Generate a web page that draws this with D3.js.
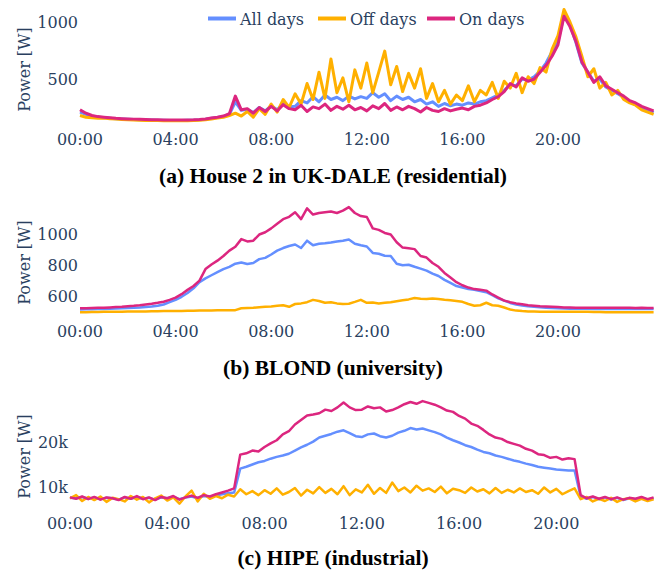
<!DOCTYPE html>
<html>
<head>
<meta charset="utf-8">
<script src="https://cdn.jsdelivr.net/npm/d3@7"></script>
<style>
  body { margin: 0; background: #fff; }
  svg text { font-family: "DejaVu Serif", serif; }
  svg text.title { font-family: "Liberation Serif", serif; font-weight: bold; }
</style>
</head>
<body>
<svg id="chart" width="670" height="575"></svg>
<script>
// legend / series
const seriesNames = ["All days", "Off days", "On days"];
const seriesColors = ["#648FFF", "#FFB000", "#DC267F"];

// time axis: samples every 15 min, 00:00 .. 24:00
const hours = d3.range(97).map(i => i / 4);
const hourTicks = [0, 4, 8, 12, 16, 20];
const hourLabels = ["00:00", "04:00", "08:00", "12:00", "16:00", "20:00"];

// (a) UK-DALE house 2 [W]
const ukdaleAll = [
  210, 190, 172, 165, 160, 156, 152, 149, 147, 145, 143, 141, 140, 139, 138, 137,
  137, 137, 138, 139, 142, 147, 155, 162, 172, 190, 300, 225, 235, 205, 250, 220,
  265, 230, 285, 255, 260, 310, 290, 345, 300, 360, 320, 340, 310, 350, 325, 345,
  330, 380, 340, 370, 310, 350, 320, 340, 300, 320, 280, 300, 260, 285, 265, 280,
  270, 290, 280, 300, 310, 335, 360, 400, 450, 440, 500, 490, 520, 570, 640, 740,
  830, 1060, 980, 820, 640, 560, 480, 500, 430, 400, 370, 340, 300, 275, 250, 230,
  205
];
const ukdaleOff = [
  180, 165, 160, 155, 158, 152, 148, 145, 142, 140, 139, 137, 136, 135, 134, 133,
  133, 133, 134, 135, 138, 143, 150, 158, 165, 180, 200, 175, 215, 165, 240, 190,
  280, 210, 320, 250, 370, 280, 460, 320, 560, 330, 675, 380, 510, 300, 580, 420,
  640, 380, 560, 745, 450, 610, 390, 550, 420, 590, 330, 460, 300, 400, 280, 360,
  310, 440, 300, 400, 360, 470, 330, 480, 420, 550, 380, 520, 460, 600, 560, 760,
  880, 1110, 1000, 870, 700, 520, 590, 420, 470, 360, 400, 320, 290, 270, 230, 210,
  190
];
const ukdaleOn = [
  230, 200, 180, 170, 165, 160, 155, 152, 150, 148, 146, 144, 143, 142, 141, 140,
  140, 140, 141, 142, 145, 150, 158, 165, 175, 195, 350, 230, 240, 200, 250, 215,
  260, 220, 275, 240, 230, 270, 215, 255, 240, 280, 225, 260, 235, 270, 230, 250,
  220, 265, 240, 285, 225, 255, 230, 260, 240, 210, 250, 225, 215, 240, 220, 235,
  245, 230, 260, 270, 290, 320, 345, 390, 460, 430, 510, 480, 500, 560, 620, 700,
  800, 1050, 960, 830, 650, 560, 470, 520, 440, 410, 380, 350, 310, 290, 260, 240,
  220
];

// (b) BLOND [W]
const blondAll = [
  513, 514, 514, 515, 516, 517, 518, 520, 522, 524, 526, 529, 532, 537, 545, 560,
  575, 595, 620, 650, 690, 715, 735, 755, 775, 790, 810, 818, 808, 815, 840, 848,
  870, 895, 912, 925, 935, 912, 960, 930, 940, 943, 948, 955, 960, 968, 940, 930,
  922, 880, 875, 862, 860, 810, 800, 803, 790, 778, 765, 746, 730, 705, 685, 665,
  655, 645, 640, 632, 625, 605, 585, 570, 555, 545, 538, 533, 530, 527, 524, 522,
  520, 518, 517, 517, 517, 517, 516, 516, 516, 516, 516, 516, 516, 516, 516, 516,
  516
];
const blondOff = [
  495, 495, 496, 496, 497, 497, 498, 498, 499, 499, 500, 500, 501, 501, 502, 502,
  503, 503, 504, 504, 505, 506, 506, 507, 507, 508, 508, 520, 522, 524, 527, 530,
  532, 536, 540, 530, 548, 552, 560, 575, 568, 556, 560, 552, 548, 550, 562, 575,
  556, 558, 552, 556, 560, 566, 572, 578, 587, 582, 580, 584, 581, 576, 572, 568,
  562, 548, 537, 540, 556, 540, 537, 525, 512, 505, 502, 500, 499, 498, 498, 498,
  497, 497, 497, 498, 497, 497, 496, 496, 495, 495, 495, 495, 494, 494, 494, 494,
  494
];
const blondOn = [
  520, 521, 522, 523, 524, 526, 528, 530, 533, 536, 540, 545, 550, 556, 563, 575,
  590, 612, 640, 665, 700, 775, 805, 830, 860, 895, 920, 970, 955, 960, 1000, 1015,
  1040, 1070, 1100, 1115, 1145, 1100, 1170, 1130, 1140, 1145, 1150, 1140, 1155, 1178, 1140, 1120,
  1114, 1040, 1030, 1010, 1000, 950, 915, 910, 905, 860, 850, 815, 790, 750, 720, 690,
  670, 655, 645, 640, 635, 610, 590, 570, 560, 552, 546, 540, 537, 534, 532, 530,
  528, 526, 525, 524, 524, 524, 524, 523, 523, 523, 523, 523, 523, 522, 523, 522,
  522
];

// (c) HIPE [kW]
const hipeAll = [
  7.7, 7.6, 7.9, 7.5, 7.8, 7.4, 7.7, 7.6, 7.3, 7.8, 7.5, 7.9, 7.5, 7.7, 7.3, 7.8,
  7.6, 7.9, 7.4, 7.8, 8.0, 7.6, 8.1, 7.9, 8.2, 8.5, 8.7, 8.9, 14.2, 14.6, 15.1, 15.6,
  15.9, 16.4, 16.8, 17.1, 17.5, 18.2, 18.9, 19.5, 20.2, 21.1, 21.5, 21.9, 22.4, 22.7, 22.1, 21.4,
  21.2, 21.8, 22.0, 21.4, 21.1, 21.5, 22.2, 22.6, 23.2, 22.9, 23.1, 22.7, 22.3, 21.8, 21.1, 20.5,
  20.0, 19.4, 19.0, 18.4, 17.9, 17.6, 17.1, 16.8, 16.4, 16.0, 15.7, 15.3, 15.0, 14.6, 14.4, 14.2,
  14.0, 13.9, 13.8, 13.8, 8.0, 7.5, 7.9, 7.4, 7.8, 7.3, 7.7, 7.2, 7.6, 7.4, 7.8, 7.3,
  7.6
];
const hipeOff = [
  7.6, 8.3, 7.0, 7.9, 7.2, 8.0, 6.8, 7.7, 7.4, 6.9, 8.1, 7.3, 7.9, 6.7, 7.6, 8.2,
  7.1, 7.8, 6.4, 8.0, 9.3, 6.9, 8.6, 7.5, 8.1, 7.6, 8.4, 8.0, 9.6, 8.5, 9.2, 8.3,
  9.4, 8.6, 9.8, 8.4, 9.0, 9.9, 8.2, 9.5, 8.7, 10.1, 8.8, 9.7, 8.5, 10.3, 8.3, 9.6,
  8.9, 10.6, 8.6, 9.9, 8.8, 11.1, 9.2, 10.0, 8.9, 10.4, 9.3, 9.8, 9.0, 10.2, 8.7, 9.7,
  9.4, 8.8, 10.0, 9.1, 9.6, 8.7, 9.9, 8.8, 9.5, 8.9, 9.8, 9.0, 9.4, 8.6, 10.0, 8.9,
  9.7, 8.5, 9.2, 9.8, 7.4, 7.9, 6.9, 7.5, 7.0, 7.7, 6.8, 7.4, 7.6, 6.9, 7.5, 7.0,
  7.4
];
const hipeOn = [
  7.8, 7.5, 8.0, 7.4, 7.9, 7.3, 7.8, 7.6, 7.2, 7.9, 7.5, 8.1, 7.4, 7.8, 7.2, 7.9,
  7.6, 8.1, 7.3, 7.8, 8.2, 7.7, 8.3, 8.0, 8.5, 8.9, 9.3, 9.8, 17.3, 17.6, 18.2, 18.0,
  19.0, 19.8, 20.5, 21.8, 22.5, 24.0, 25.0, 26.0, 26.2, 26.5, 27.3, 27.0, 27.8, 28.9, 27.8, 27.2,
  27.3, 28.0, 27.6, 27.8, 26.9, 27.2, 27.8, 28.5, 29.0, 28.6, 29.2, 28.8, 28.4, 27.8, 27.1, 26.8,
  25.9, 25.3, 24.2, 23.7, 22.8, 21.8, 21.1, 20.8, 20.1, 19.7, 19.3, 18.6, 18.2, 17.4, 17.2, 16.6,
  16.8, 16.2, 16.5, 16.3, 8.3, 7.6, 8.0, 7.5, 7.9, 7.4, 7.8, 7.3, 7.7, 7.5, 7.9, 7.4,
  7.8
];

const textColor = "#2a3f5f";
const svg = d3.select("#chart");

const panels = [
  { title: "(a) House 2 in UK-DALE (residential)", series: [ukdaleAll, ukdaleOff, ukdaleOn],
    left: 80, top: 8, bottom: 123, domain: [114, 1123], ticks: [500, 1000], fmt: d => d,
    lw: 3, tickY: 145, titleY: 183 },
  { title: "(b) BLOND (university)", series: [blondAll, blondOff, blondOn],
    left: 80, top: 203, bottom: 314, domain: [483, 1205], ticks: [600, 800, 1000], fmt: d => d,
    lw: 2.5, tickY: 337, titleY: 375 },
  { title: "(c) HIPE (industrial)", series: [hipeAll, hipeOff, hipeOn],
    left: 70, top: 400, bottom: 505, domain: [6.11, 29.44], ticks: [10, 20], fmt: d => d + "k",
    lw: 2.5, tickY: 529, titleY: 565 }
];
const right = 653.6;

panels.forEach(p => {
  const x = d3.scaleLinear().domain([0, 24]).range([p.left, right]);
  const y = d3.scaleLinear().domain(p.domain).range([p.bottom, p.top]);
  const g = svg.append("g");

  const line = d3.line()
    .x((d, i) => x(hours[i]))
    .y(d => y(d));

  p.series.forEach((s, k) => {
    g.append("path")
      .datum(s)
      .attr("fill", "none")
      .attr("stroke", seriesColors[k])
      .attr("stroke-width", p.lw)
      .attr("stroke-linejoin", "round")
      .attr("d", line);
  });

  // x tick labels
  g.selectAll(".xt")
    .data(hourTicks)
    .join("text")
    .attr("x", d => x(d))
    .attr("y", p.tickY)
    .attr("text-anchor", "middle")
    .attr("font-size", 16)
    .attr("fill", textColor)
    .text((d, i) => hourLabels[i]);

  // y tick labels
  g.selectAll(".yt")
    .data(p.ticks)
    .join("text")
    .attr("x", p.left - 2)
    .attr("y", d => y(d))
    .attr("dy", "0.36em")
    .attr("text-anchor", "end")
    .attr("font-size", 16)
    .attr("fill", textColor)
    .text(p.fmt);

  g.append("text")
    .attr("transform", `translate(29.5,${(p.top + p.bottom) / 2 + 4}) rotate(-90)`)
    .attr("text-anchor", "middle")
    .attr("font-size", 16)
    .attr("fill", textColor)
    .text("Power [W]");

  g.append("text")
    .attr("class", "title")
    .attr("x", 333)
    .attr("y", p.titleY)
    .attr("text-anchor", "middle")
    .attr("font-size", 21.5)
    .attr("fill", "#000")
    .text(p.title);
});

// legend
const legendX = [208, 318, 427];
const lg = svg.append("g");
seriesNames.forEach((name, k) => {
  lg.append("line")
    .attr("x1", legendX[k]).attr("x2", legendX[k] + 28)
    .attr("y1", 18.5).attr("y2", 18.5)
    .attr("stroke", seriesColors[k])
    .attr("stroke-width", 4);
  lg.append("text")
    .attr("x", legendX[k] + 32)
    .attr("y", 25)
    .attr("font-size", 16)
    .attr("fill", textColor)
    .text(name);
});
</script>
</body>
</html>
